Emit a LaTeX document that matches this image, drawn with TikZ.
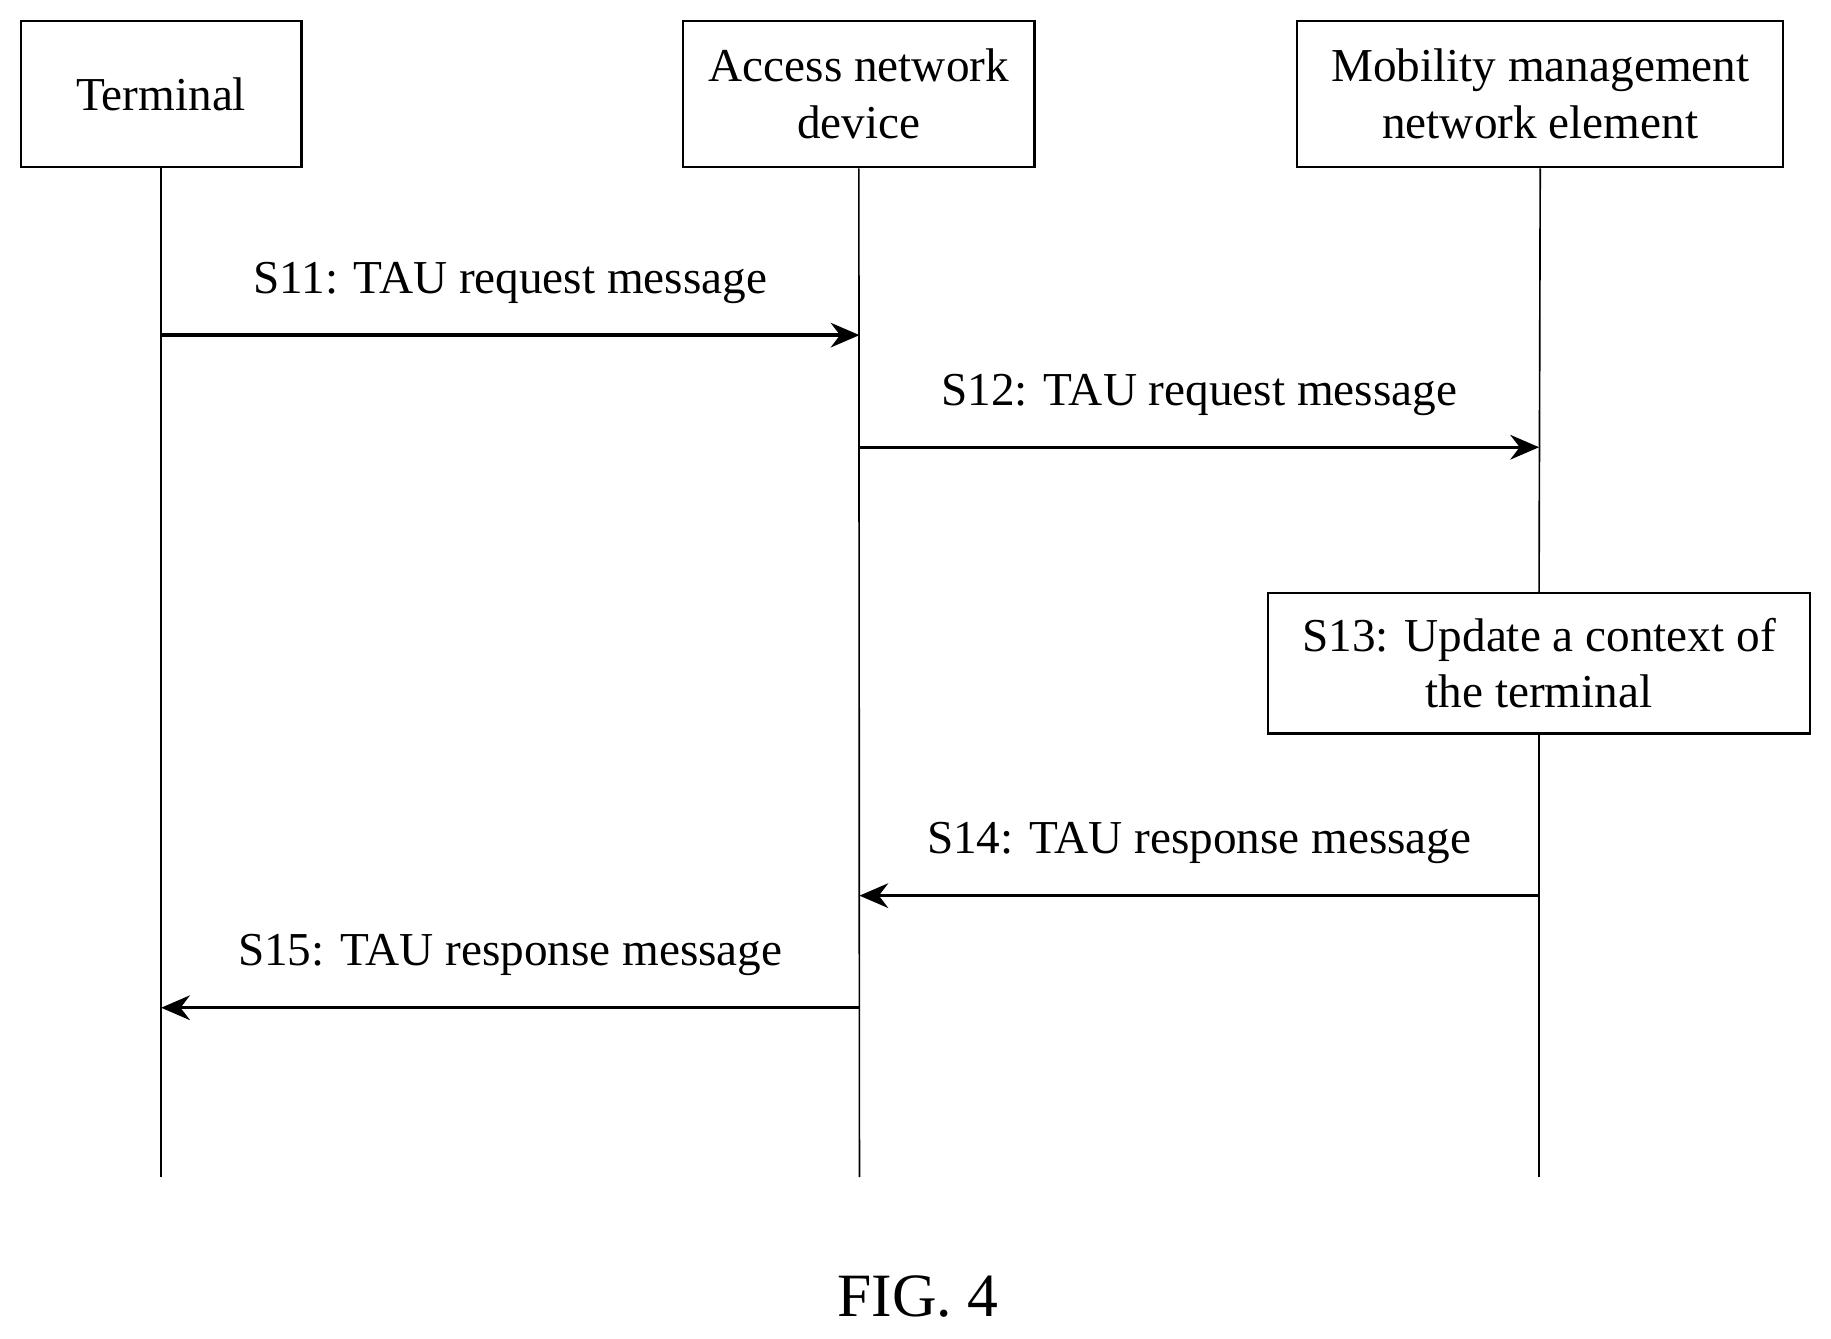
\documentclass[tikz,border=0pt]{standalone}
\usepackage{fontspec}
\setmainfont{Liberation Serif}
\usetikzlibrary{positioning}
\usetikzlibrary{arrows.meta}
\begin{document}
\begin{tikzpicture}[x=0.01cm, y=-0.01cm,
    every node/.style={font=\fontsize{11.5}{13.8}\selectfont},
    entity/.style={draw, semithick, minimum height=1.25cm, align=center, inner sep=0pt},
    life/.style={thin},
    msg/.style={thick, -{Stealth[length=7pt, width=6pt]}}]
            % Frame
            \useasboundingbox (0,0) rectangle (1568,1146);
            % Entities
            \node[entity, minimum width=2.40cm] (term) at (138, 80.5) {Terminal};
            \node[entity, minimum width=3.01cm] (acc)  at (735.5, 80.5) {Access network\\device};
            \node[entity, minimum width=4.16cm] (mme)  at (1319, 80.5) {Mobility management\\network element};
            % Lifelines
            \coordinate (termE) at (138, 1008);
            \coordinate (accE)  at (736, 1008);
            \coordinate (mmeE)  at (1318, 1008);
            \node[entity, minimum width=4.64cm, minimum height=1.20cm] (upd) at (1318, 568) {S13: Update a context of\\the terminal};
            \draw[life] (term.south) -- (termE);
            \draw[life] (acc.south) -- (accE);
            \draw[life] (mme.south) -- (upd.north);
            \draw[life] (upd.south) -- (mmeE);
            % Messages
            \coordinate (m1a) at (138, 287);  \coordinate (m1b) at (736, 287);
            \coordinate (m2a) at (736, 383);  \coordinate (m2b) at (1318, 383);
            \coordinate (m4a) at (1318, 767); \coordinate (m4b) at (736, 767);
            \coordinate (m5a) at (736, 863);  \coordinate (m5b) at (138, 863);
            \draw[msg] (m1a) -- node[above=0.14cm] {S11: TAU request message} (m1b);
            \draw[msg] (m2a) -- node[above=0.14cm] {S12: TAU request message} (m2b);
            \draw[msg] (m4a) -- node[above=0.14cm] {S14: TAU response message} (m4b);
            \draw[msg] (m5a) -- node[above=0.14cm] {S15: TAU response message} (m5b);
            % Caption
            \node[font=\fontsize{15}{18}\selectfont] (fig) at (786, 1110) {FIG. 4};
\end{tikzpicture}
\end{document}
